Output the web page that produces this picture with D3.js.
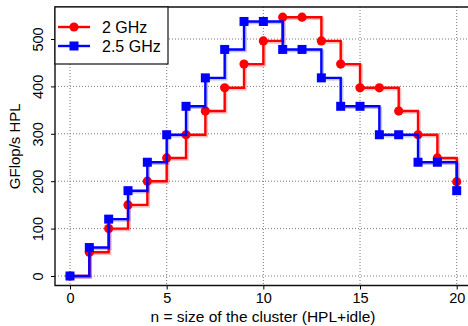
<!DOCTYPE html>
<html>
<head>
<meta charset="utf-8">
<script src="https://cdn.jsdelivr.net/npm/d3@7"></script>
<style>
  body { margin: 0; background: #fff; }
  svg { font-family: "Liberation Sans", Arial, sans-serif; }
</style>
</head>
<body>
<svg id="chart" width="468" height="326"></svg>
<script>
// cluster size n
const sizes = d3.range(0, 21);
// GFlop/s HPL, 2 GHz
const ghz2 = [0, 50, 100, 150, 200, 249, 298, 348, 397, 447, 496, 546, 546, 496, 447, 397, 397, 348, 298, 249, 199];
// GFlop/s HPL, 2.5 GHz
const ghz25 = [0, 60, 120, 180, 240, 298, 358, 418, 478, 537, 537, 478, 478, 418, 358, 358, 298, 298, 240, 240, 180];
const xTicks = [0, 5, 10, 15, 20];
const yTicks = [0, 100, 200, 300, 400, 500];

const series = [
  { name: "2 GHz", values: ghz2, color: "#ff0000", shape: "circle" },
  { name: "2.5 GHz", values: ghz25, color: "#0000ff", shape: "square" }
];

const svg = d3.select("#chart");
const margin = { left: 55, top: 7, right: 469, bottom: 285.5 };

const x = d3.scaleLinear().domain([0, 20]).range([70, 456.7]);
const y = d3.scaleLinear().domain([0, 500]).range([276, 39]);

// grid (dotted)
const grid = svg.append("g");
grid.selectAll("line.gx").data(xTicks).join("line")
  .attr("x1", d => x(d)).attr("x2", d => x(d))
  .attr("y1", margin.top).attr("y2", margin.bottom)
  .attr("stroke", "#777").attr("stroke-width", 1).attr("stroke-dasharray", "1,2");
grid.selectAll("line.gy").data(yTicks).join("line")
  .attr("x1", margin.left).attr("x2", margin.right)
  .attr("y1", d => y(d)).attr("y2", d => y(d))
  .attr("stroke", "#777").attr("stroke-width", 1).attr("stroke-dasharray", "1,2");

// axes
const xAxis = svg.append("g")
  .attr("transform", `translate(0,${margin.bottom})`)
  .call(d3.axisBottom(x).tickValues(xTicks).tickSize(4).tickPadding(3).tickSizeOuter(0));
xAxis.select(".domain").remove();
xAxis.selectAll("text").attr("font-size", 14.5).attr("fill", "#000");

const yAxis = svg.append("g")
  .attr("transform", `translate(${margin.left},0)`)
  .call(d3.axisLeft(y).tickValues(yTicks).tickSize(4).tickSizeOuter(0));
yAxis.select(".domain").remove();
yAxis.selectAll("text")
  .attr("font-size", 14.5).attr("fill", "#000")
  .attr("text-anchor", "middle")
  .attr("x", 0).attr("dy", 0)
  .attr("transform", "translate(-12,0) rotate(-90)");

// frame: left, top, bottom
svg.append("path")
  .attr("d", `M${margin.right},${margin.top}H${margin.left}V${margin.bottom}H${margin.right}`)
  .attr("fill", "none").attr("stroke", "#111").attr("stroke-width", 1.4);

// step lines
const line = d3.line()
  .x((d, i) => x(sizes[i]))
  .y(d => y(d))
  .curve(d3.curveStepAfter);

series.forEach(s => {
  const g = svg.append("g");
  // soft halo seen in the original
  g.append("path")
    .attr("d", line(s.values))
    .attr("fill", "none").attr("stroke", s.color)
    .attr("stroke-opacity", 0.25).attr("stroke-width", 2.5)
    .attr("transform", "translate(1.5,1.5)");
  g.append("path")
    .attr("d", line(s.values))
    .attr("fill", "none").attr("stroke", s.color).attr("stroke-width", 2.4);
  if (s.shape === "circle") {
    g.selectAll("circle").data(s.values).join("circle")
      .attr("cx", (d, i) => x(sizes[i])).attr("cy", d => y(d))
      .attr("r", 4.6).attr("fill", s.color);
  } else {
    g.selectAll("rect").data(s.values).join("rect")
      .attr("x", (d, i) => x(sizes[i]) - 4.5).attr("y", d => y(d) - 4.5)
      .attr("width", 9).attr("height", 9).attr("fill", s.color);
  }
});

// axis titles
svg.append("text")
  .attr("x", 263).attr("y", 322)
  .attr("text-anchor", "middle").attr("font-size", 15.5)
  .text("n = size of the cluster (HPL+idle)");
svg.append("text")
  .attr("transform", `translate(20,${(margin.top + margin.bottom) / 2}) rotate(-90)`)
  .attr("text-anchor", "middle").attr("font-size", 15)
  .text("GFlop/s HPL");

// legend
const legend = svg.append("g");
legend.append("rect")
  .attr("x", margin.left).attr("y", margin.top)
  .attr("width", 113).attr("height", 57)
  .attr("fill", "#fff").attr("stroke", "#111").attr("stroke-width", 1.2);
series.forEach((s, i) => {
  const ly = 27 + i * 19;
  legend.append("line")
    .attr("x1", 58).attr("x2", 90).attr("y1", ly).attr("y2", ly)
    .attr("stroke", s.color).attr("stroke-width", 2.4);
  if (s.shape === "circle") {
    legend.append("circle").attr("cx", 74).attr("cy", ly).attr("r", 4.6).attr("fill", s.color);
  } else {
    legend.append("rect").attr("x", 69.5).attr("y", ly - 4.5)
      .attr("width", 9).attr("height", 9).attr("fill", s.color);
  }
  legend.append("text")
    .attr("x", 102).attr("y", ly).attr("dy", "0.36em")
    .attr("font-size", 16).text(s.name);
});
</script>
</body>
</html>
